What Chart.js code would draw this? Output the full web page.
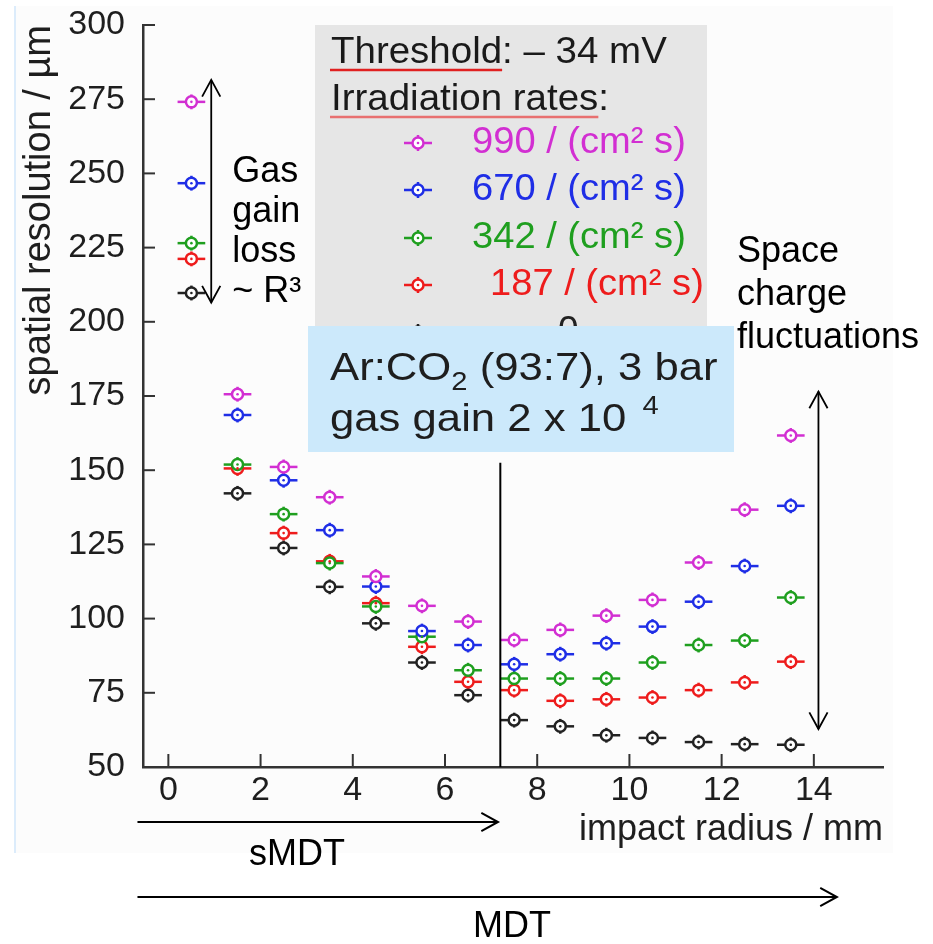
<!DOCTYPE html>
<html>
<head>
<meta charset="utf-8">
<script src="https://cdn.jsdelivr.net/npm/chart.js@4.4.1/dist/chart.umd.min.js"></script>
<style>
  body { margin: 0; background: #fff; }
  canvas { display: block; }
</style>
</head>
<body>
<canvas id="resChart" width="933" height="944"></canvas>
<script>
// impact radius bin centres (mm)
const radius = [0.5, 1.5, 2.5, 3.5, 4.5, 5.5, 6.5, 7.5, 8.5, 9.5, 10.5, 11.5, 12.5, 13.5];

// spatial resolution (um) per irradiation rate
const res990 = [274.1, 175.6, 151.1, 140.9, 114.2, 104.3, 99.0, 92.8, 96.2, 101.0, 106.3, 118.9, 136.7, 161.7];
const res670 = [246.7, 168.6, 146.6, 129.8, 110.8, 95.8, 91.1, 84.6, 88.0, 91.7, 97.3, 105.7, 117.7, 138.0];
const res342 = [226.5, 151.9, 135.2, 118.7, 104.1, 93.9, 82.6, 79.8, 79.8, 79.8, 85.2, 91.1, 92.6, 107.1];
const res187 = [221.2, 150.6, 128.8, 119.3, 105.2, 90.5, 78.7, 75.9, 72.3, 72.8, 73.4, 75.9, 78.5, 85.5];
const res0   = [209.7, 142.2, 123.8, 110.7, 98.4, 85.2, 74.2, 65.8, 63.7, 60.7, 59.8, 58.4, 57.7, 57.5];

const rateLabels = ['990', '670', '342', '187', '0'];
const xTicks = [0, 2, 4, 6, 8, 10, 12, 14];
const yTicks = [50, 75, 100, 125, 150, 175, 200, 225, 250, 275, 300];

const seriesColors = ['#d22fd2', '#1f2ee6', '#1f9f1f', '#ee1c1c', '#222222'];
const allSeries = [res990, res670, res342, res187, res0];

const X_ERR = 0.3;  // horizontal bar half width (mm)
const Y_ERR = 2.5;  // vertical bar half height (um)
const FONT = '"Liberation Sans", Arial, Helvetica, sans-serif';

const datasets = allSeries.map((vals, i) => ({
    label: rateLabels[i],
    data: vals.map((v, j) => ({ x: radius[j], y: v })),
    borderColor: seriesColors[i],
    backgroundColor: '#ffffff',
    pointRadius: 5.5,
    pointBorderWidth: 2.5,
    showLine: false
}));

function drawMarker(ctx, px, py, color) {
    ctx.strokeStyle = color;
    ctx.lineWidth = 2.5;
    ctx.beginPath();
    ctx.moveTo(px - 14, py); ctx.lineTo(px + 14, py);
    ctx.moveTo(px, py - 8); ctx.lineTo(px, py + 8);
    ctx.stroke();
    ctx.fillStyle = '#fff';
    ctx.beginPath();
    ctx.arc(px, py, 5.5, 0, Math.PI * 2);
    ctx.fill();
    ctx.stroke();
    ctx.fillStyle = color;
    ctx.beginPath();
    ctx.arc(px, py, 1.3, 0, Math.PI * 2);
    ctx.fill();
}

function arrowHead(ctx, x, y, angle) {
    const len = 19, spread = 0.5;
    ctx.beginPath();
    ctx.moveTo(x - len * Math.cos(angle - spread), y - len * Math.sin(angle - spread));
    ctx.lineTo(x, y);
    ctx.lineTo(x - len * Math.cos(angle + spread), y - len * Math.sin(angle + spread));
    ctx.stroke();
}

function line(ctx, x1, y1, x2, y2) {
    ctx.beginPath();
    ctx.moveTo(x1, y1);
    ctx.lineTo(x2, y2);
    ctx.stroke();
}

const background = {
    id: 'background',
    beforeDraw(chart) {
        const ctx = chart.ctx;
        ctx.save();
        ctx.fillStyle = '#ffffff';
        ctx.fillRect(0, 0, chart.width, chart.height);
        ctx.fillStyle = '#fcfcfc';
        ctx.fillRect(14, 6, 879, 847);
        ctx.strokeStyle = '#dcecfb';
        ctx.lineWidth = 2;
        line(ctx, 15, 6, 15, 853);
        ctx.restore();
    }
};

const errorBars = {
    id: 'errorBars',
    beforeDatasetsDraw(chart) {
        const { ctx, scales: { x, y } } = chart;
        ctx.save();
        ctx.lineWidth = 2.5;
        chart.data.datasets.slice().reverse().forEach(ds => {
            ctx.strokeStyle = ds.borderColor;
            ds.data.forEach(p => {
                const px = x.getPixelForValue(p.x), py = y.getPixelForValue(p.y);
                line(ctx, x.getPixelForValue(p.x - X_ERR), py, x.getPixelForValue(p.x + X_ERR), py);
                line(ctx, px, y.getPixelForValue(p.y - Y_ERR), px, y.getPixelForValue(p.y + Y_ERR));
            });
        });
        ctx.restore();
    },
    afterDatasetsDraw(chart) {
        const { ctx, scales: { x, y } } = chart;
        ctx.save();
        chart.data.datasets.forEach(ds => {
            ctx.fillStyle = ds.borderColor;
            ds.data.forEach(p => {
                ctx.beginPath();
                ctx.arc(x.getPixelForValue(p.x), y.getPixelForValue(p.y), 1.3, 0, Math.PI * 2);
                ctx.fill();
            });
        });
        ctx.restore();
    }
};

// inner tick marks
const innerTicks = {
    id: 'innerTicks',
    afterDraw(chart) {
        const { ctx, chartArea: a, scales: { x, y } } = chart;
        ctx.save();
        ctx.strokeStyle = '#333';
        ctx.lineWidth = 2;
        xTicks.forEach(v => {
            const px = x.getPixelForValue(v);
            line(ctx, px, a.bottom, px, a.bottom - 13);
        });
        yTicks.forEach(v => {
            const py = y.getPixelForValue(v);
            line(ctx, a.left, py, a.left + 12, py);
        });
        ctx.restore();
    }
};

// draws text stretched horizontally by sx, returns advance width
function wideText(ctx, text, px, py, sx) {
    ctx.save();
    ctx.translate(px, py);
    ctx.scale(sx, 1);
    ctx.fillText(text, 0, 0);
    ctx.restore();
    return ctx.measureText(text).width * sx;
}

const annotations = {
    id: 'annotations',
    afterDraw(chart) {
        const { ctx, chartArea: a, scales: { x, y } } = chart;
        ctx.save();

        // legend panel
        ctx.fillStyle = '#e6e6e6';
        ctx.fillRect(315, 25, 392, 302);
        ctx.textBaseline = 'alphabetic';
        ctx.textAlign = 'left';
        ctx.font = '37px ' + FONT;
        ctx.fillStyle = '#1a1a1a';
        const s1 = 1.04;
        wideText(ctx, 'Threshold: \u2013 34 mV', 331, 63, s1);
        const w1 = ctx.measureText('Threshold').width * s1;
        wideText(ctx, 'Irradiation rates:', 331, 110, s1);
        const w2 = ctx.measureText('Irradiation rates').width * s1;
        ctx.lineWidth = 2.5;
        ctx.strokeStyle = '#e02020';
        line(ctx, 330, 70, 331 + w1, 70);
        ctx.strokeStyle = '#e87070';
        line(ctx, 330, 117, 331 + w2, 117);

        const rowY = [143, 190, 238, 285, 332];
        ctx.textBaseline = 'middle';
        rateLabels.forEach((r, i) => {
            drawMarker(ctx, 418, rowY[i], seriesColors[i]);
            ctx.fillStyle = seriesColors[i];
            if (r === '0') {
                ctx.fillText(r, 558, rowY[i]);
            } else {
                wideText(ctx, r + ' / (cm\u00b2 s)', r === '187' ? 490 : 472, rowY[i], 1.03);
            }
        });

        // gas box
        ctx.fillStyle = '#cce9fb';
        ctx.fillRect(308, 326, 426, 126);
        ctx.fillStyle = '#1e1e1e';
        ctx.textBaseline = 'alphabetic';
        const sg = 1.12;
        ctx.font = '39px ' + FONT;
        let tx = 330;
        tx += wideText(ctx, 'Ar:CO', tx, 380, sg);
        ctx.font = '26px ' + FONT;
        tx += wideText(ctx, '2', tx, 390, sg);
        ctx.font = '39px ' + FONT;
        wideText(ctx, ' (93:7), 3 bar', tx, 380, sg);
        tx = 330;
        tx += wideText(ctx, 'gas gain 2 x 10 ', tx, 431, sg);
        ctx.font = '26px ' + FONT;
        wideText(ctx, '4', tx + 4, 414, sg);

        // sMDT radius marker line
        ctx.strokeStyle = '#000';
        ctx.lineWidth = 2;
        const lx = x.getPixelForValue(7.2);
        line(ctx, lx, y.getPixelForValue(152.5), lx, a.bottom);

        // gas gain loss arrow
        ctx.lineWidth = 1.8;
        const gx = x.getPixelForValue(0.93);
        const gTop = y.getPixelForValue(281.5), gBot = y.getPixelForValue(206.5);
        line(ctx, gx, gTop, gx, gBot);
        arrowHead(ctx, gx, gTop, -Math.PI / 2);
        arrowHead(ctx, gx, gBot, Math.PI / 2);
        ctx.fillStyle = '#000';
        ctx.font = '36px ' + FONT;
        ['Gas', 'gain', 'loss', '~ R\u00b3'].forEach((t, i) => ctx.fillText(t, gx + 21, 182 + i * 40));

        // space charge arrow
        const sx = x.getPixelForValue(14.1);
        const sTop = y.getPixelForValue(176.5), sBot = y.getPixelForValue(62.8);
        line(ctx, sx, sTop, sx, sBot);
        arrowHead(ctx, sx, sTop, -Math.PI / 2);
        arrowHead(ctx, sx, sBot, Math.PI / 2);
        ['Space', 'charge', 'fluctuations'].forEach((t, i) => ctx.fillText(t, 737, 262 + i * 43));

        // tube radius arrows
        ctx.lineWidth = 2;
        const x0 = x.getPixelForValue(-0.67);
        const xs = x.getPixelForValue(7.15), xm = x.getPixelForValue(14.5);
        line(ctx, x0, 822, xs, 822);
        arrowHead(ctx, xs, 822, 0);
        line(ctx, x0, 897, xm, 897);
        arrowHead(ctx, xm, 897, 0);
        ctx.textAlign = 'center';
        ctx.fillText('sMDT', 297, 865);
        ctx.fillText('MDT', 512, 937);

        ctx.restore();
    }
};

new Chart(document.getElementById('resChart'), {
    type: 'scatter',
    data: { datasets: datasets },
    options: {
        responsive: false,
        animation: false,
        layout: { padding: { left: 0, right: 50, top: 25, bottom: 92 } },
        plugins: { legend: { display: false }, tooltip: { enabled: false } },
        scales: {
            x: {
                type: 'linear',
                min: -0.55,
                max: 15.5,
                afterFit: s => { s.height = 85; },
                afterBuildTicks: s => { s.ticks = xTicks.map(v => ({ value: v })); },
                grid: { drawOnChartArea: false, drawTicks: false },
                border: { display: true, color: '#333', width: 2.5 },
                ticks: { padding: 3, color: '#1e1e1e', font: { family: FONT, size: 34 } },
                title: {
                    display: true, text: 'impact radius / mm', align: 'end',
                    color: '#1e1e1e', font: { family: FONT, size: 36 }, padding: 0
                }
            },
            y: {
                type: 'linear',
                min: 50,
                max: 300,
                afterFit: s => { s.width = 143; },
                afterBuildTicks: s => { s.ticks = yTicks.map(v => ({ value: v })); },
                // transparent outer tick marks give the label gap without adding vertical padding
                grid: { drawOnChartArea: false, drawTicks: true, tickLength: 18, tickColor: 'rgba(0,0,0,0)' },
                border: { display: true, color: '#333', width: 2.5 },
                ticks: { padding: 0, color: '#1e1e1e', font: { family: FONT, size: 34 } },
                title: {
                    display: true, text: 'spatial resolution / \u00b5m', align: 'end',
                    color: '#1e1e1e', font: { family: FONT, size: 38 }, padding: { top: 17, bottom: 0 }
                }
            }
        }
    },
    plugins: [background, errorBars, innerTicks, annotations]
});
</script>
</body>
</html>
